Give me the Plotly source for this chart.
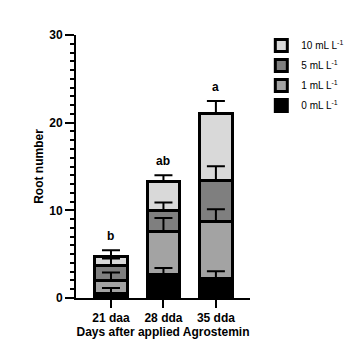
import plotly.graph_objects as go
import numpy as np

categories = ["21 daa", "28 dda", "35 dda"]
series_names = ["0 mL L<sup>-1</sup>", "1 mL L<sup>-1</sup>", "5 mL L<sup>-1</sup>", "10 mL L<sup>-1</sup>"]
vals_0 = [0.48, 2.70, 2.21]
vals_1 = [1.54, 4.83, 6.47]
vals_5 = [1.71, 2.40, 4.68]
vals_10 = [1.05, 3.31, 7.69]
err_0 = [0.66, 0.72, 0.84]
err_1 = [0.88, 1.60, 1.45]
err_5 = [0.77, 0.96, 1.67]
err_10 = [0.66, 0.76, 1.41]
letters = ["b", "ab", "a"]
y_ticks = [0, 10, 20, 30]

colors = ["#000000", "#a3a3a3", "#7f7f7f", "#d9d9d9"]
FONT = "Arial, Liberation Sans, sans-serif"

series_vals = [vals_0, vals_1, vals_5, vals_10]
series_errs = [err_0, err_1, err_5, err_10]

fig = go.Figure()
for i, (name, v, c) in enumerate(zip(series_names, series_vals, colors)):
    fig.add_trace(go.Bar(
        x=categories, y=v, name=name, width=0.62, legendgroup=f"g{i}",
        legendrank=1000 - i,
        marker=dict(color=c, line=dict(color="black", width=3)),
    ))

cum = np.zeros(len(categories))
tops = []
for v, e in zip(series_vals, series_errs):
    cum = cum + np.array(v)
    tops.append(cum.copy())
    fig.add_trace(go.Scatter(
        x=categories, y=cum.copy(), mode="markers",
        marker=dict(size=1, opacity=0), showlegend=False, hoverinfo="skip",
        error_y=dict(type="data", array=e, arrayminus=[0] * len(e), symmetric=False,
                     color="black", thickness=2, width=9),
    ))

final_tops = tops[-1] + np.array(err_10)
for cat, t, lab in zip(categories, final_tops, letters):
    fig.add_annotation(x=cat, y=t, text=lab, showarrow=False, yanchor="bottom", yshift=5,
                       font=dict(family=FONT, size=12, color="black", weight="bold"))

fig.update_layout(
    width=353, height=331,
    margin=dict(l=68, r=111, t=27, b=41, autoexpand=False),
    barmode="stack",
    plot_bgcolor="white", paper_bgcolor="white",
    font=dict(family=FONT, color="black"),
    showlegend=True,
    legend=dict(x=1.065, y=1.015, xanchor="left", yanchor="top",
                traceorder="grouped",
                font=dict(family=FONT, size=10, color="black"),
                tracegroupgap=1, itemwidth=30),
)
fig.update_xaxes(
    range=[-0.667, 2.65], showline=True, linecolor="black", linewidth=2,
    ticks="outside", ticklen=8, tickwidth=2, tickcolor="black", automargin=False,
    tickfont=dict(family=FONT, size=12, weight="bold"),
    title=dict(text="Days after applied Agrostemin", standoff=4,
               font=dict(family=FONT, size=12, weight="bold")),
    showgrid=False, zeroline=False,
)
fig.update_yaxes(
    range=[0, 30], tickvals=y_ticks, showline=True, linecolor="black", linewidth=2,
    ticks="outside", ticklen=9, tickwidth=2, tickcolor="black", automargin=False,
    minor=dict(dtick=1, ticklen=4, tickwidth=1.5, tickcolor="black", ticks="outside", showgrid=False),
    tickfont=dict(family=FONT, size=12, weight="bold"),
    title=dict(text="Root number", standoff=3,
               font=dict(family=FONT, size=12, weight="bold")),
    showgrid=False, zeroline=False,
)

fig.write_html("out.html")
